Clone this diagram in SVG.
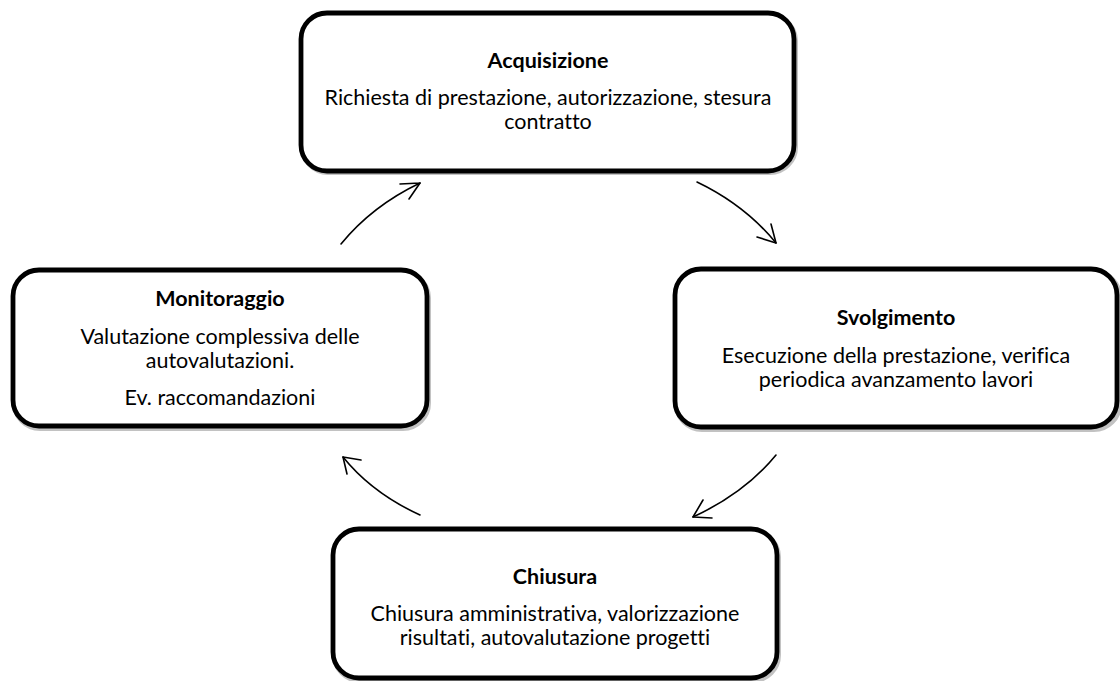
<svg xmlns="http://www.w3.org/2000/svg" width="1120" height="681" viewBox="0 0 1120 681">
<defs>
<style>
.box{fill:#fff;stroke:#000;stroke-width:4.8}
.shadow{fill:none;stroke:#9a9a9a;stroke-width:4;opacity:0.6}
.t{font-family:Lato,"Liberation Sans",sans-serif;font-size:21.5px;fill:#000;text-anchor:middle;font-variant-ligatures:none}
.b{font-weight:bold}
.arr{fill:none;stroke:#000;stroke-width:1.6;stroke-linecap:round;stroke-linejoin:round}
</style>
</defs>
<rect width="1120" height="681" fill="#fff"/>
<g id="acquisizione">
<rect class="shadow" x="302" y="15" width="494" height="158" rx="26"/>
<rect class="box" x="301" y="13" width="493" height="158" rx="26"/>
<text class="t b" x="548" y="68">Acquisizione</text>
<text class="t" x="548" y="105">Richiesta di prestazione, autorizzazione, stesura</text>
<text class="t" x="548" y="129">contratto</text>
</g>
<g id="svolgimento">
<rect class="shadow" x="676" y="271" width="444" height="159" rx="26"/>
<rect class="box" x="675" y="269" width="442" height="158" rx="26"/>
<text class="t b" x="896" y="325">Svolgimento</text>
<text class="t" x="896" y="363">Esecuzione della prestazione, verifica</text>
<text class="t" x="896" y="387">periodica avanzamento lavori</text>
</g>
<g id="chiusura">
<rect class="shadow" x="334" y="531" width="445" height="150" rx="26"/>
<rect class="box" x="333" y="529" width="444" height="149" rx="26"/>
<text class="t b" x="555" y="584">Chiusura</text>
<text class="t" x="555" y="621">Chiusura amministrativa, valorizzazione</text>
<text class="t" x="555" y="645">risultati, autovalutazione progetti</text>
</g>
<g id="monitoraggio">
<rect class="shadow" x="14" y="272" width="415" height="157" rx="26"/>
<rect class="box" x="13" y="270" width="414" height="156" rx="26"/>
<text class="t b" x="220" y="306">Monitoraggio</text>
<text class="t" x="220" y="344">Valutazione complessiva delle</text>
<text class="t" x="220" y="368">autovalutazioni.</text>
<text class="t" x="220" y="405">Ev. raccomandazioni</text>
</g>
<g id="connectors">
<path class="arr" d="M341,244 Q372,206 420,183"/>
<path class="arr" d="M420,183 L400,184 M420,183 L409,199"/>
<path class="arr" d="M697,182 Q745,205 776,243"/>
<path class="arr" d="M776,243 L757,237 M776,243 L771,224"/>
<path class="arr" d="M776,455 Q745,493 693,517"/>
<path class="arr" d="M693,517 L712,518 M693,517 L703,500"/>
<path class="arr" d="M420,515 Q372,493 343,457"/>
<path class="arr" d="M343,457 L361,460 M343,457 L347,474"/>
</g>
</svg>
